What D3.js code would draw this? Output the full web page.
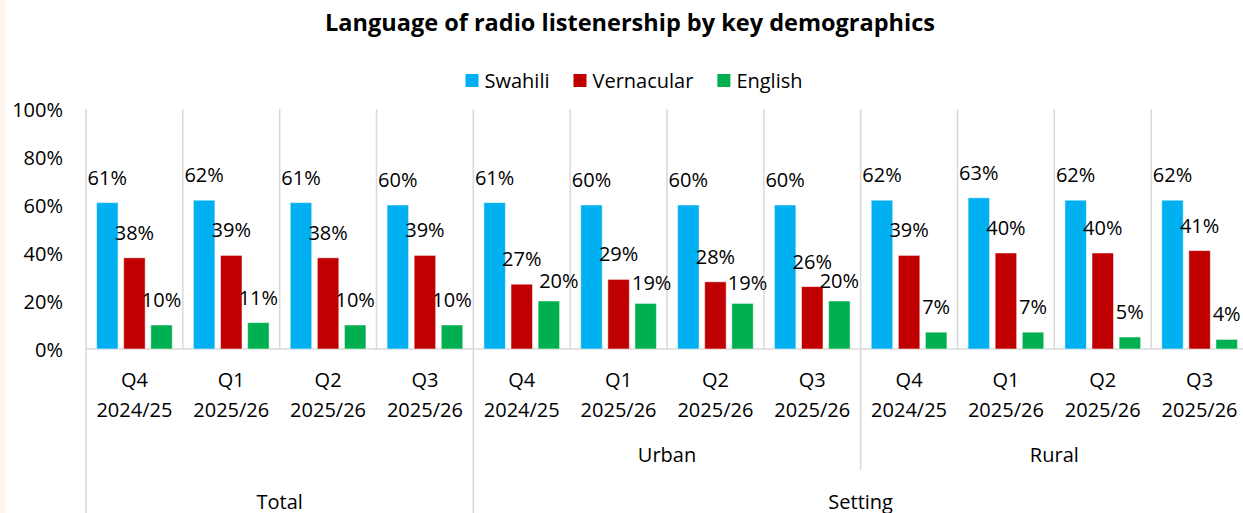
<!DOCTYPE html>
<html>
<head>
<meta charset="utf-8">
<script src="https://cdn.jsdelivr.net/npm/d3@7"></script>
<style>
  html, body { margin: 0; padding: 0; background: #fff; }
  svg { display: block; }
  text { font-family: "Open Sans", "Noto Sans", sans-serif; fill: #000; }
</style>
</head>
<body>
<svg id="chart" width="1243" height="513"></svg>
<script>
// ---- data ----
const series = ["Swahili", "Vernacular", "English"];
const seriesColors = ["#00B0F0", "#C00000", "#00B050"];
const quarters = ["Q4", "Q1", "Q2", "Q3"];
const years = ["2024/25", "2025/26", "2025/26", "2025/26"];
const subGroups = ["", "Urban", "Rural"];          // middle tier label per block of four
const topGroups = ["Total", "Setting"];            // outer tier
const swahili    = [61, 62, 61, 60, 61, 60, 60, 60, 62, 63, 62, 62];
const vernacular = [38, 39, 38, 39, 27, 29, 28, 26, 39, 40, 40, 41];
const english    = [10, 11, 10, 10, 20, 19, 19, 20, 7, 7, 5, 4];
const yTicks = [0, 20, 40, 60, 80, 100];

const values = [swahili, vernacular, english];
const cats = d3.range(swahili.length);
const FS = 20;

// English labels in the Urban block sit a little lower/right to clear the Vernacular labels
const labelNudge = { "2-4": [10, 5], "2-5": [6, 5], "2-6": [5, 5], "2-7": [0, 5] };

const svg = d3.select("#chart");

// faint page edge on the left
svg.append("rect").attr("x", 0).attr("y", 0).attr("width", 6).attr("height", 513).attr("fill", "#FEF6EE");

const x = d3.scaleBand().domain(cats).range([86, 1248]).paddingInner(0).paddingOuter(0);
const xi = d3.scaleBand().domain(series).range([0, x.bandwidth()]).paddingInner(0.207).paddingOuter(0.39);
const y = d3.scaleLinear().domain([0, 100]).range([349, 109]);

const grid = "#D9D9D9";

// vertical separators inside plot
svg.append("g").selectAll("line").data(cats).join("line")
  .attr("x1", d => x(d)).attr("x2", d => x(d))
  .attr("y1", y(100)).attr("y2", y(0))
  .attr("stroke", grid).attr("stroke-width", 1.5);

// category axis line
svg.append("line").attr("x1", x(0)).attr("x2", 1248).attr("y1", y(0)).attr("y2", y(0))
  .attr("stroke", grid).attr("stroke-width", 1.5);

// tier separators below axis
const tierLines = [
  { c: 0, y2: 513 },
  { c: 4, y2: 513 },
  { c: 8, y2: 470 }
];
svg.append("g").selectAll("line").data(tierLines).join("line")
  .attr("x1", d => x(d.c)).attr("x2", d => x(d.c))
  .attr("y1", y(0)).attr("y2", d => d.y2)
  .attr("stroke", grid).attr("stroke-width", 1.5);

// y axis labels
const yAxis = d3.axisLeft(y).tickValues(yTicks).tickFormat(d => d + "%").tickSize(0).tickPadding(0);
const ya = svg.append("g").attr("transform", "translate(63,0)").call(yAxis);
ya.select(".domain").remove();
ya.selectAll("text").attr("font-size", FS).attr("font-family", "Open Sans").attr("fill", "#000").attr("dy", "0.35em");

// bars
const flat = [];
cats.forEach(c => series.forEach((s, si) => flat.push({ c, s, si, v: values[si][c] })));

svg.append("g").selectAll("rect").data(flat).join("rect")
  .attr("x", d => x(d.c) + xi(d.s))
  .attr("y", d => y(d.v))
  .attr("width", xi.bandwidth())
  .attr("height", d => y(0) - y(d.v))
  .attr("fill", d => seriesColors[d.si])
  .attr("stroke", "#fff").attr("stroke-opacity", 0.5).attr("stroke-width", 1);

// value labels
const nudge = d => labelNudge[d.si + "-" + d.c] || [0, 0];
svg.append("g").selectAll("text").data(flat).join("text")
  .attr("x", d => x(d.c) + xi(d.s) + xi.bandwidth() / 2 + nudge(d)[0])
  .attr("y", d => y(d.v) - 18 + nudge(d)[1])
  .attr("text-anchor", "middle")
  .attr("font-size", FS)
  .text(d => d.v + "%");

// category labels: quarter and year
const catG = svg.append("g");
catG.selectAll("text.q").data(cats).join("text").attr("class", "q")
  .attr("x", d => x(d) + x.bandwidth() / 2).attr("y", 387)
  .attr("text-anchor", "middle").attr("font-size", FS)
  .text(d => quarters[d % 4]);
catG.selectAll("text.yr").data(cats).join("text").attr("class", "yr")
  .attr("x", d => x(d) + x.bandwidth() / 2).attr("y", 417)
  .attr("text-anchor", "middle").attr("font-size", FS)
  .text(d => years[d % 4]);

// middle tier
subGroups.forEach((g, i) => {
  if (!g) return;
  const x0 = x(i * 4), x1 = x(i * 4 + 3) + x.bandwidth();
  svg.append("text").attr("x", (x0 + x1) / 2).attr("y", 462)
    .attr("text-anchor", "middle").attr("font-size", FS).text(g);
});

// outer tier
const topSpans = [[0, 3], [4, 11]];
topGroups.forEach((g, i) => {
  const x0 = x(topSpans[i][0]), x1 = x(topSpans[i][1]) + x.bandwidth();
  svg.append("text").attr("x", (x0 + x1) / 2).attr("y", 509)
    .attr("text-anchor", "middle").attr("font-size", FS).text(g);
});

// title
svg.append("text").attr("x", 630).attr("y", 31).attr("text-anchor", "middle")
  .attr("font-size", 23.5).attr("font-weight", "bold")
  .text("Language of radio listenership by key demographics");

// legend
const leg = svg.append("g");
const items = leg.selectAll("g").data(series).join("g");
items.append("rect").attr("width", 13).attr("height", 13).attr("y", 74)
  .attr("fill", (d, i) => seriesColors[i]);
items.append("text").attr("x", 19).attr("y", 88).attr("font-size", FS).text(d => d);
const widths = [];
items.each(function() { widths.push(19 + this.querySelector("text").getComputedTextLength()); });
const gap = 24;
const total = d3.sum(widths) + gap * (widths.length - 1);
let cx = 634 - total / 2;
items.attr("transform", (d, i) => {
  const t = `translate(${cx},0)`;
  cx += widths[i] + gap;
  return t;
});
</script>
</body>
</html>
